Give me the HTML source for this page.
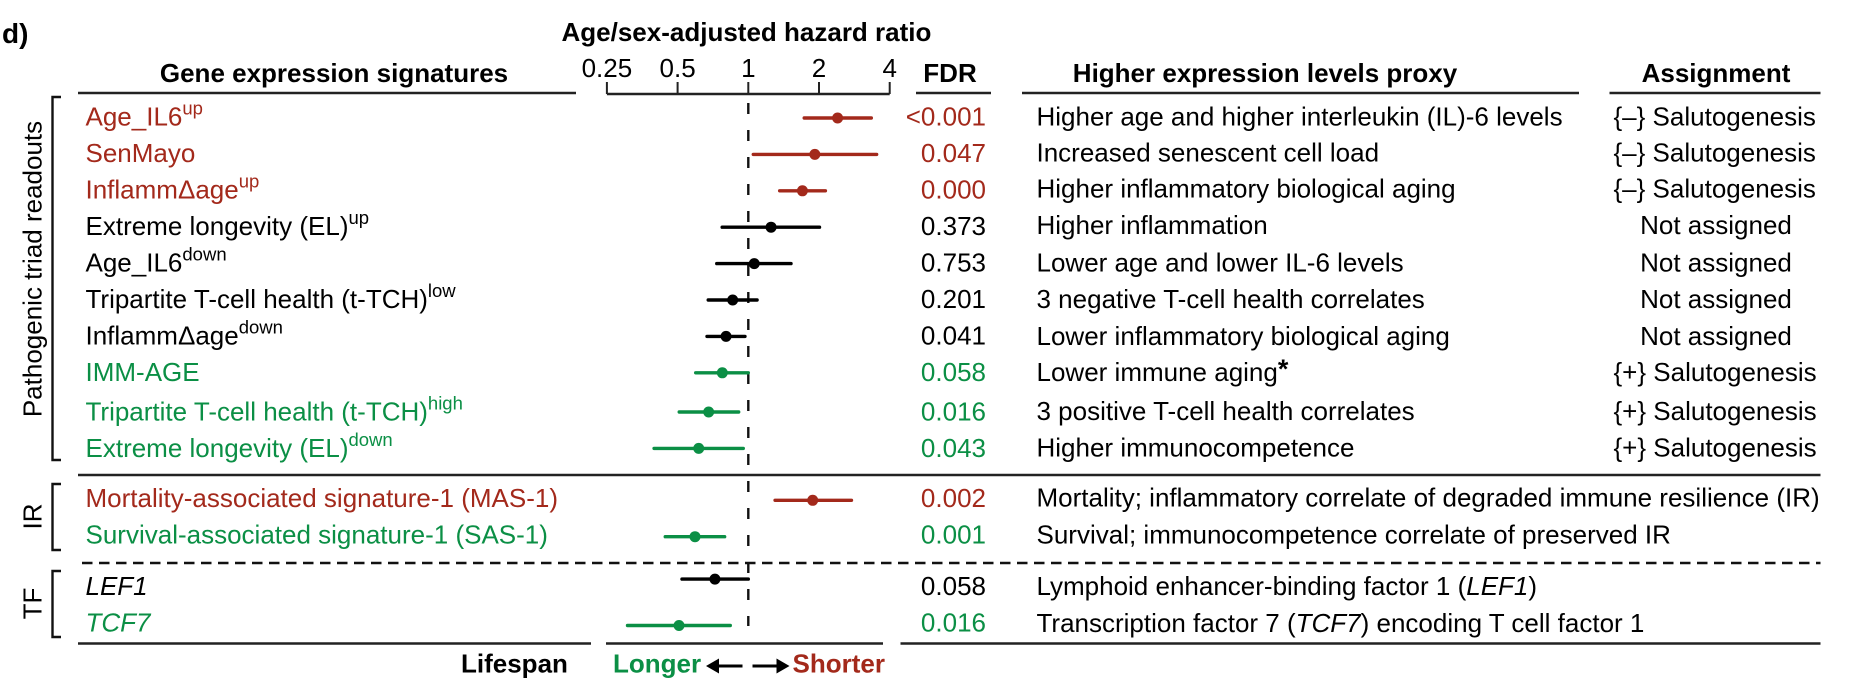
<!DOCTYPE html>
<html lang="en">
<head>
<meta charset="utf-8">
<title>Age/sex-adjusted hazard ratio forest plot</title>
<style>
html,body{margin:0;padding:0;background:#fff;}
svg{display:block;}
text{font-family:"Liberation Sans",Arial,sans-serif;font-size:26px;fill:#000;}
.b{font-weight:bold;}
.hl{stroke:#222;stroke-width:2.4;fill:none;}
.br{stroke:#111;stroke-width:2.4;fill:none;}
</style>
</head>
<body>
<svg id="chart" xmlns="http://www.w3.org/2000/svg" width="1868" height="684" viewBox="0 0 1868 684">
  <text class="b" x="2" y="43" style="font-size:28px">d)</text>
  <text class="b" x="561.5" y="41">Age/sex-adjusted hazard ratio</text>

  <text class="b" x="334" y="82" text-anchor="middle">Gene expression signatures</text>
  <text class="b" x="950" y="82" text-anchor="middle">FDR</text>
  <text class="b" x="1265" y="82" text-anchor="middle">Higher expression levels proxy</text>
  <text class="b" x="1716" y="82" text-anchor="middle">Assignment</text>

  <line class="hl" x1="78" y1="93" x2="576" y2="93"/>
  <line class="hl" x1="916" y1="93" x2="991" y2="93"/>
  <line class="hl" x1="1022" y1="93" x2="1579" y2="93"/>
  <line class="hl" x1="1609.5" y1="93" x2="1820.5" y2="93"/>

  <line class="hl" x1="78" y1="475" x2="1820.5" y2="475"/>
  <line x1="82" y1="563" x2="1820.5" y2="563" stroke="#111" stroke-width="2.4" stroke-dasharray="10.5 6.5"/>
  <line class="hl" x1="78" y1="643.5" x2="591" y2="643.5"/>
  <line class="hl" x1="606" y1="643.5" x2="883" y2="643.5"/>
  <line class="hl" x1="900.5" y1="643.5" x2="1820.5" y2="643.5"/>

  <path class="br" d="M61 97H52.5V460H61"/>
  <path class="br" d="M61 484H52.5V550H61"/>
  <path class="br" d="M61 571H52.5V637H61"/>
  <text transform="translate(41.5 269) rotate(-90)" text-anchor="middle">Pathogenic triad readouts</text>
  <text transform="translate(41.5 516.5) rotate(-90)" text-anchor="middle">IR</text>
  <text transform="translate(41.5 603.5) rotate(-90)" text-anchor="middle">TF</text>

  <g>
    <text x="1036.5" y="125.7">Higher age and higher interleukin (IL)-6 levels</text>
    <text x="1036.5" y="161.5">Increased senescent cell load</text>
    <text x="1036.5" y="197.5">Higher inflammatory biological aging</text>
    <text x="1036.5" y="234">Higher inflammation</text>
    <text x="1036.5" y="271.7">Lower age and lower IL-6 levels</text>
    <text x="1036.5" y="308">3 negative T-cell health correlates</text>
    <text x="1036.5" y="345">Lower inflammatory biological aging</text>
    <text x="1036.5" y="381">Lower immune aging<tspan dy="-3" style="font-size:27px;font-weight:bold">*</tspan></text>
    <text x="1036.5" y="420">3 positive T-cell health correlates</text>
    <text x="1036.5" y="456.7">Higher immunocompetence</text>
    <text x="1036.5" y="506.7">Mortality; inflammatory correlate of degraded immune resilience (IR)</text>
    <text x="1036.5" y="543.5">Survival; immunocompetence correlate of preserved IR</text>
    <text x="1036.5" y="595">Lymphoid enhancer-binding factor 1 (<tspan font-style="italic">LEF1</tspan>)</text>
    <text x="1036.5" y="632">Transcription factor 7 (<tspan font-style="italic">TCF7</tspan>) encoding T cell factor 1</text>
  </g>

  <g>
    <text x="1613.5" y="125.7">{–} Salutogenesis</text>
    <text x="1613.5" y="161.5">{–} Salutogenesis</text>
    <text x="1613.5" y="197.5">{–} Salutogenesis</text>
    <text x="1716" y="234" text-anchor="middle">Not assigned</text>
    <text x="1716" y="271.7" text-anchor="middle">Not assigned</text>
    <text x="1716" y="308" text-anchor="middle">Not assigned</text>
    <text x="1716" y="345" text-anchor="middle">Not assigned</text>
    <text x="1613.5" y="381">{+} Salutogenesis</text>
    <text x="1613.5" y="420">{+} Salutogenesis</text>
    <text x="1613.5" y="456.7">{+} Salutogenesis</text>
  </g>

  <text class="b" x="461" y="672.5">Lifespan</text>
  <text class="b" x="613" y="672.5" style="fill:#0b8f45">Longer</text>
  <text class="b" x="792.5" y="672.5" style="fill:#a3291b">Shorter</text>
  <g>
    <line x1="716" y1="666" x2="742.5" y2="666" stroke="#000" stroke-width="3"/>
    <polygon points="706,666 719,658.5 719,673.5" fill="#000"/>
  </g>
  <g>
    <line x1="752.5" y1="666" x2="779" y2="666" stroke="#000" stroke-width="3"/>
    <polygon points="789.5,666 776.5,658.5 776.5,673.5" fill="#000"/>
  </g>
  <g id="plot"></g>
</svg>
<script>
const categories = ["Age_IL6","SenMayo","InflammΔage","Extreme longevity (EL)","Age_IL6","Tripartite T-cell health (t-TCH)","InflammΔage","IMM-AGE","Tripartite T-cell health (t-TCH)","Extreme longevity (EL)","Mortality-associated signature-1 (MAS-1)","Survival-associated signature-1 (SAS-1)","LEF1","TCF7"];
const categorySuffixes = ["up","","up","up","down","low","down","","high","down","","","",""];
const italicCategories = ["LEF1","TCF7"];
const hazardRatio = [2.40,1.92,1.70,1.25,1.06,0.858,0.804,0.775,0.678,0.615,1.88,0.593,0.721,0.507];
const ciLower = [1.73,1.05,1.36,0.774,0.734,0.675,0.667,0.597,0.508,0.397,1.30,0.443,0.522,0.306];
const ciUpper = [3.34,3.52,2.13,2.01,1.52,1.09,0.968,1.00,0.91,0.952,2.75,0.793,1.00,0.838];
const fdrValues = ["<0.001","0.047","0.000","0.373","0.753","0.201","0.041","0.058","0.016","0.043","0.002","0.001","0.058","0.016"];
const effectGroups = ["risk","risk","risk","none","none","none","none","protective","protective","protective","risk","protective","none","protective"];
const tickValues = [0.25,0.5,1,2,4];
const tickLabels = ["0.25","0.5","1","2","4"];

const SVG_NS = "http://www.w3.org/2000/svg";
const plot = document.getElementById("plot");
const palette = {risk:"#a3291b", none:"#000000", protective:"#0b8f45"};

function xScale(hr){
  return 748.3 + 70.7 * Math.log2(hr);
}
function rowY(i){
  let y = 118 + 36.4 * i;
  if (i >= 8) y += 2.8;
  if (i >= 10) y += 15.5;
  if (i >= 12) y += 6;
  if (i >= 13) y += 10;
  return y;
}
function labelY(i){
  let y = 125.7 + 36.45 * i;
  if (i >= 8) y += 3;
  if (i >= 10) y += 13.7;
  if (i >= 12) y += 15.2;
  return y;
}
function make(tag, attrs, parent){
  const el = document.createElementNS(SVG_NS, tag);
  for (const k in attrs) el.setAttribute(k, attrs[k]);
  parent.appendChild(el);
  return el;
}

/* x axis */
const axisGroup = make("g", {}, plot);


const axisLine = make("line", {x1:xScale(tickValues[0]), x2:xScale(tickValues[tickValues.length-1]), y1:94, y2:94, stroke:"#222", "stroke-width":2.4}, axisGroup);


tickValues.forEach(function(v, i){
  const tick = make("line", {x1:xScale(v), x2:xScale(v), y1:82, y2:94, stroke:"#222", "stroke-width":2}, axisGroup);
  
  
  const label = make("text", {x:xScale(v), y:77, "text-anchor":"middle"}, axisGroup);
  
  
  label.textContent = tickLabels[i];
});

/* reference line at HR = 1 */
const refLine = make("line", {x1:xScale(1), x2:xScale(1), y1:103, y2:626, stroke:"#111", "stroke-width":2.4, "stroke-dasharray":"11 16"}, plot);



/* rows */
categories.forEach(function(name, i){
  const color = palette[effectGroups[i]];
  const label = make("text", {x:85.5, y:labelY(i)}, plot);
  
  
  label.style.fill = color;
  if (italicCategories.indexOf(name) >= 0) label.style.fontStyle = "italic";
  label.textContent = name;
  if (categorySuffixes[i]) {
    const sup = make("tspan", {dy:-11}, label);
    sup.style.fontSize = "18.5px";
    sup.style.fill = color;
    sup.textContent = categorySuffixes[i];
  }

  const ci = make("line", {x1:xScale(ciLower[i]), x2:xScale(ciUpper[i]), y1:rowY(i), y2:rowY(i), stroke:color, "stroke-width":3.4, "stroke-linecap":"round"}, plot);
  
  

  const point = make("circle", {cx:xScale(hazardRatio[i]), cy:rowY(i), r:5.5, fill:color}, plot);
  
  

  const fdr = make("text", {x:986, y:labelY(i), "text-anchor":"end"}, plot);
  
  
  fdr.style.fill = color;
  fdr.textContent = fdrValues[i];
});
</script>
</body>
</html>
